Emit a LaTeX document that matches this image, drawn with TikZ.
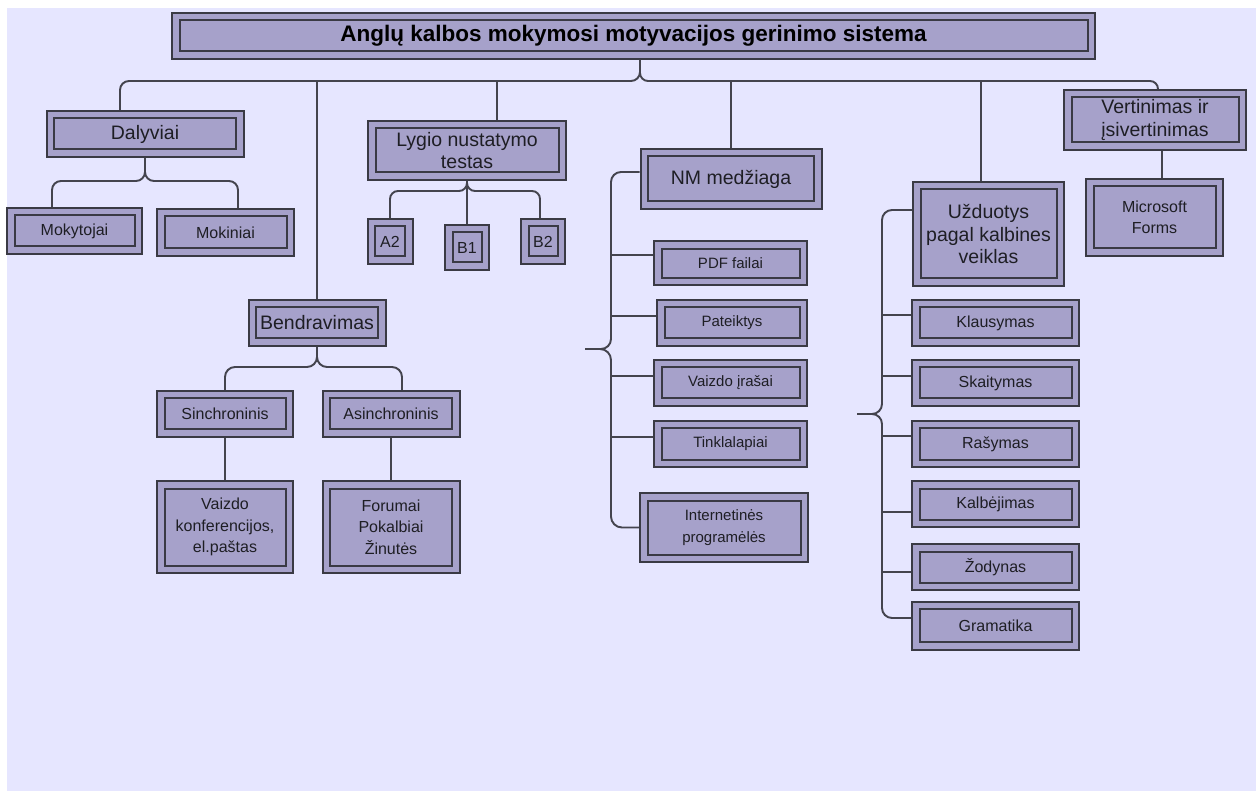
\documentclass[tikz,border=0pt]{standalone}
\usepackage{fontspec}
\setmainfont{Liberation Sans}
\definecolor{bgc}{RGB}{230,230,255}
\definecolor{boxc}{RGB}{166,161,202}
\definecolor{bordc}{RGB}{58,58,68}
\definecolor{linec}{RGB}{68,68,78}
\definecolor{txtc}{RGB}{30,30,36}
\tikzset{
  dbox/.style={draw=bordc, fill=boxc, line width=2pt, inner sep=0pt, align=center, text=txtc,
    path picture={\draw[bordc, line width=2pt]
      ([shift={(7.5pt,-7.5pt)}]path picture bounding box.north west) rectangle
      ([shift={(-7.5pt,7.5pt)}]path picture bounding box.south east);}},
  big/.style={font=\fontsize{19.5}{22.5}\selectfont},
  small/.style={font=\fontsize{16}{21.5}\selectfont},
  tiny/.style={font=\fontsize{15}{21.5}\selectfont},
  conn/.style={draw=linec, line width=1.9pt},
}
\begin{document}
\begin{tikzpicture}[x=1pt,y=-1pt]
\useasboundingbox (0,0) rectangle (1256,791);
\fill[bgc] (7,8) rectangle (1256,791);

% title
\node[dbox, font=\fontsize{22.5}{27}\selectfont\bfseries, text=black, minimum width=923pt, minimum height=46pt] (title) at (633.5,36) {Anglų kalbos mokymosi motyvacijos gerinimo sistema};

% Dalyviai
\node[dbox, big, minimum width=197pt, minimum height=46pt] (dal) at (145,134) {Dalyviai};
\node[dbox, small, minimum width=135pt, minimum height=46pt] (mokyt) at (74.5,231) {Mokytojai};
\node[dbox, small, minimum width=137pt, minimum height=47pt] (mokin) at (225.5,232.5) {Mokiniai};

% Lygio
\node[dbox, big, minimum width=198pt, minimum height=59pt] (lyg) at (467,150.5) {Lygio nustatymo\\testas};
\node[dbox, small, minimum width=45pt, minimum height=45pt] (a2) at (390,241.5) {A2};
\node[dbox, small, minimum width=44pt, minimum height=45pt] (b1) at (467,247.5) {B1};
\node[dbox, small, minimum width=44pt, minimum height=45pt] (b2) at (543,241.5) {B2};

% Bendravimas
\node[dbox, big, minimum width=137pt, minimum height=46pt] (bend) at (317,323) {Bendravimas};
\node[dbox, small, minimum width=136pt, minimum height=46pt] (sinch) at (225,414) {Sinchroninis};
\node[dbox, small, minimum width=137pt, minimum height=46pt] (asinch) at (391,414) {Asinchroninis};
\node[dbox, small, minimum width=136pt, minimum height=92pt] (vaizk) at (225,527) {Vaizdo\\konferencijos,\\el.paštas};
\node[dbox, small, minimum width=137pt, minimum height=92pt] (forum) at (391,527) {Forumai\\Pokalbiai\\Žinutės};

% NM medziaga
\node[dbox, big, minimum width=181pt, minimum height=60pt] (nm) at (731,179) {NM medžiaga};
\node[dbox, tiny, minimum width=153pt, minimum height=44pt] (pdf) at (730.5,263.5) {PDF failai};
\node[dbox, tiny, minimum width=150pt, minimum height=46pt] (pat) at (732,323) {Pateiktys};
\node[dbox, tiny, minimum width=153pt, minimum height=46pt] (vir) at (730.5,383) {Vaizdo įrašai};
\node[dbox, tiny, minimum width=153pt, minimum height=46pt] (tink) at (730.5,444) {Tinklalapiai};
\node[dbox, tiny, minimum width=168pt, minimum height=69pt] (inter) at (724,527.5) {Internetinės\\programėlės};

% Uzduotys
\node[dbox, big, minimum width=151pt, minimum height=104pt] (uzd) at (988.5,234) {Užduotys\\pagal kalbines\\veiklas};
\node[dbox, small, minimum width=167pt, minimum height=46pt] (klaus) at (995.5,323) {Klausymas};
\node[dbox, small, minimum width=167pt, minimum height=46pt] (skait) at (995.5,383) {Skaitymas};
\node[dbox, small, minimum width=167pt, minimum height=46pt] (ras) at (995.5,444) {Rašymas};
\node[dbox, small, minimum width=167pt, minimum height=46pt] (kalb) at (995.5,504) {Kalbėjimas};
\node[dbox, small, minimum width=167pt, minimum height=46pt] (zod) at (995.5,567) {Žodynas};
\node[dbox, small, minimum width=167pt, minimum height=48pt] (gram) at (995.5,625.5) {Gramatika};

% Vertinimas
\node[dbox, big, minimum width=182pt, minimum height=60pt] (vert) at (1155,120) {Vertinimas ir\\įsivertinimas};
\node[dbox, small, minimum width=137pt, minimum height=77pt] (msf) at (1154.5,217.5) {Microsoft\\Forms};

% ---- connectors ----
\coordinate (bus) at (640,81);
\coordinate (stem) at ([xshift=6.5pt]title.south);
\coordinate (dalin) at ([xshift=-25pt]dal.north);
\coordinate (vertin) at ([xshift=3pt]vert.north);
\draw[conn, rounded corners=9pt] (stem) -- (bus) -- (bus -| dalin) -- (dalin);
\draw[conn, rounded corners=8pt] (stem) -- (bus) -- (bus -| vertin) -- (vertin);
\draw[conn] (bend.north |- bus) -- (bend.north);
\coordinate (lygin) at ([xshift=30pt]lyg.north);
\draw[conn] (lygin |- bus) -- (lygin);
\draw[conn] (nm.north |- bus) -- (nm.north);
\coordinate (uzdin) at ([xshift=-7.5pt]uzd.north);
\draw[conn] (uzdin |- bus) -- (uzdin);

% Dalyviai brace
\coordinate (dalj) at ([yshift=-23pt]dal.south);
\coordinate (mkt) at ([xshift=-22.5pt]mokyt.north);
\coordinate (mkn) at ([xshift=12.5pt]mokin.north);
\draw[conn, rounded corners=9pt] (dal.south) -- (dalj) -- (dalj -| mkt) -- (mkt);
\draw[conn, rounded corners=9pt] (dal.south) -- (dalj) -- (dalj -| mkn) -- (mkn);

% Lygio brace
\coordinate (lygj) at ([yshift=-10pt]lyg.south);
\coordinate (b2in) at ([xshift=-3pt]b2.north);
\draw[conn, rounded corners=8pt] (lyg.south) -- (lygj) -- (lygj -| a2.north) -- (a2.north);
\draw[conn, rounded corners=8pt] (lyg.south) -- (lygj) -- (lygj -| b2in) -- (b2in);
\draw[conn] (lyg.south) -- (b1.north);

% Bendravimas brace
\coordinate (bendj) at ([yshift=-20pt]bend.south);
\coordinate (asin) at ([xshift=11pt]asinch.north);
\draw[conn, rounded corners=10pt] (bend.south) -- (bendj) -- (bendj -| sinch.north) -- (sinch.north);
\draw[conn, rounded corners=10pt] (bend.south) -- (bendj) -- (bendj -| asin) -- (asin);
\draw[conn] (sinch.south) -- (vaizk.north);
\draw[conn] (asinch.south) -- (forum.north);

% Vertinimas -> Forms
\coordinate (vmo) at ([xshift=7pt]vert.south);
\draw[conn] (vmo) -- (vmo |- msf.north);

% NM brace
\coordinate (nmo) at ([yshift=7pt]nm.west);
\coordinate (nmv) at (611,349);
\coordinate (nmtip) at (585,349);
\draw[conn, rounded corners=10pt] (nmo) -- (nmo -| nmv) -- (nmv) -- (nmtip);
\draw[conn, rounded corners=11pt] (inter.west) -- (inter.west -| nmv) -- (nmv) -- (nmtip);
\foreach \n/\s in {pdf/8.5,pat/7,vir/7,tink/7}{
  \path ([yshift=\s pt]\n.west) coordinate (tmp);
  \draw[conn] (tmp -| nmv) -- (tmp);
}

% Uzduotys brace
\coordinate (uzo) at ([yshift=24pt]uzd.west);
\coordinate (uzv) at (882,414);
\coordinate (uztip) at (857,414);
\coordinate (gro) at ([yshift=7.5pt]gram.west);
\draw[conn, rounded corners=10pt] (uzo) -- (uzo -| uzv) -- (uzv) -- (uztip);
\draw[conn, rounded corners=10pt] (gro) -- (gro -| uzv) -- (uzv) -- (uztip);
\foreach \n/\s in {klaus/8,skait/7,ras/8,kalb/-8,zod/-5}{
  \path ([yshift=\s pt]\n.west) coordinate (tmp);
  \draw[conn] (tmp -| uzv) -- (tmp);
}
\end{tikzpicture}
\end{document}
